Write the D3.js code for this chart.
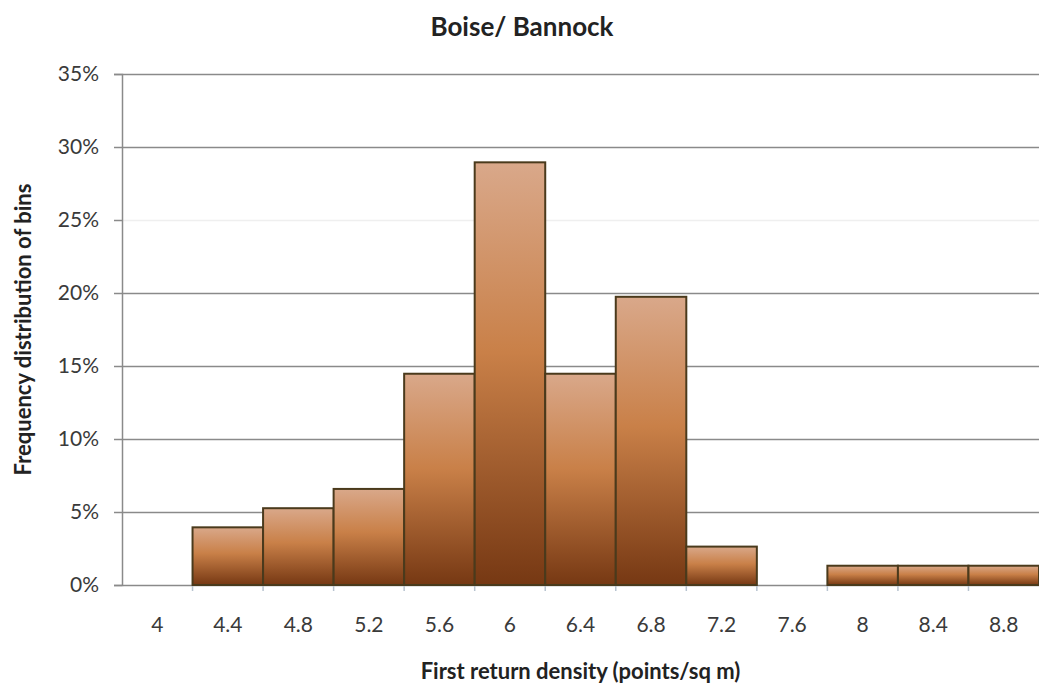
<!DOCTYPE html>
<html><head><meta charset="utf-8">
<script src="https://cdn.jsdelivr.net/npm/d3@7"></script>
<style>body{margin:0;background:#fff}svg{display:block}text{font-family:Lato,"Open Sans",sans-serif}</style>
</head><body><svg id="c" width="1039" height="686"></svg>
<script>
const categories = ["4","4.4","4.8","5.2","5.6","6","6.4","6.8","7.2","7.6","8","8.4","8.8"];
const values = [0, 0.0395, 0.0526, 0.0658, 0.1447, 0.2895, 0.1447, 0.1974, 0.0263, 0, 0.0132, 0.0132, 0.0132];
const yTicks = [0, 0.05, 0.10, 0.15, 0.20, 0.25, 0.30, 0.35];
const title = "Boise/ Bannock";
const xTitle = "First return density (points/sq m)";
const yTitle = "Frequency distribution of bins";

const svg = d3.select("#c");
const m = {l:122, r:0, t:74, b:101};
const W = 1039, H = 686;
const x = d3.scaleBand().domain(categories).range([m.l, W - m.r]).padding(0);
const y = d3.scaleLinear().domain([0, 0.35]).range([H - m.b, m.t]);

const defs = svg.append("defs");
const g = defs.append("linearGradient").attr("id","bg").attr("x1",0).attr("y1",0).attr("x2",0).attr("y2",1);
g.append("stop").attr("offset","0%").attr("stop-color","#d9a88a");
g.append("stop").attr("offset","45%").attr("stop-color","#c98048");
g.append("stop").attr("offset","100%").attr("stop-color","#763813");

// gridlines
svg.append("g").selectAll("line").data(yTicks.filter(d => d > 0)).join("line")
  .attr("x1", m.l).attr("x2", W - m.r)
  .attr("y1", d => Math.round(y(d)) + 0.5).attr("y2", d => Math.round(y(d)) + 0.5)
  .attr("stroke", d => Math.abs(d - 0.25) < 1e-9 ? "#efefef" : "#8a8a8a").attr("stroke-width", 1.5);

// y axis
const yAxis = d3.axisLeft(y).tickValues(yTicks).tickFormat(d3.format(".0%")).tickSize(8).tickPadding(15);
const ya = svg.append("g").attr("transform", `translate(${m.l},0)`).call(yAxis);
ya.select(".domain").attr("stroke","#8a8a8a").attr("stroke-width",1.5);
ya.selectAll(".tick line").attr("stroke","#8a8a8a").attr("stroke-width",1.5);
ya.selectAll(".tick text").attr("font-size",21).attr("fill","#3a3a3a");

// x axis
const xa = svg.append("g").attr("transform", `translate(0,${y(0)})`).call(d3.axisBottom(x).tickSize(0).tickPadding(32));
xa.select(".domain").attr("stroke","#8a8a8a").attr("stroke-width",1.5);
xa.selectAll(".tick text").attr("font-size",21).attr("fill","#3a3a3a");
// boundary ticks
svg.append("g").selectAll("line").data(categories.slice(1)).join("line")
  .attr("x1", d => x(d)).attr("x2", d => x(d))
  .attr("y1", y(0)).attr("y2", y(0) + 6)
  .attr("stroke", "#b8c4d0").attr("stroke-width", 1.5);

// bars
svg.append("g").selectAll("rect").data(categories.map((c,i) => ({c, v: values[i]})).filter(d => d.v > 0)).join("rect")
  .attr("x", d => x(d.c)).attr("width", x.bandwidth())
  .attr("y", d => y(d.v)).attr("height", d => y(0) - y(d.v))
  .attr("fill", "url(#bg)").attr("stroke", "#4a3a1c").attr("stroke-width", 2);

// titles
svg.append("text").attr("x", 522).attr("y", 36).attr("text-anchor","middle")
  .attr("font-size", 26).attr("font-weight","bold").attr("fill","#222").text(title);
svg.append("text").attr("x", (m.l + W - m.r)/2).attr("y", 679).attr("text-anchor","middle")
  .attr("font-size", 22).attr("font-weight","bold").attr("fill","#222").text(xTitle);
svg.append("text").attr("transform", `translate(31,${(y(0)+y(0.35))/2}) rotate(-90)`).attr("text-anchor","middle")
  .attr("font-size", 22).attr("font-weight","bold").attr("fill","#222").text(yTitle);
</script></body></html>
